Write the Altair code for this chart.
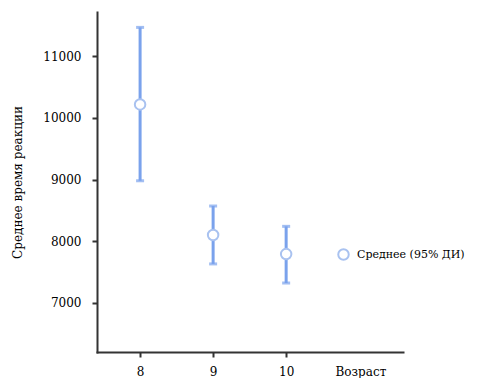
import altair as alt
import pandas as pd

ages = [8, 9, 10]
means = [10220, 8100, 7790]
lower = [8980, 7630, 7320]
upper = [11470, 8570, 8240]
series = ["Среднее (95% ДИ)"] * 3

df = pd.DataFrame({"age": ages, "mean": means, "lower": lower, "upper": upper, "series": series})
caps = pd.DataFrame({"age": ages + ages, "val": lower + upper})

FONT = "DejaVu Serif"
FS = 12
BAR = "#7aa2ec"
PT = "#a9c2f0"

xscale = alt.Scale(domain=[7.41, 11.6], nice=False, zero=False)
yscale = alt.Scale(domain=[6200, 11720], nice=False, zero=False)

xaxis = alt.Axis(values=ages, title="Возраст", grid=False, labelFont=FONT, labelFontSize=FS,
                 labelColor="black", titleFont=FONT, titleFontSize=FS, titleFontWeight="normal",
                 titleColor="black", titleAnchor="start", titleAlign="left", titleBaseline="alphabetic",
                 titleX=238, titleY=23,
                 domainColor="#333333", domainWidth=2, tickColor="#333333", tickWidth=2, tickSize=5,
                 labelPadding=9, format="d")
yaxis = alt.Axis(values=[7000, 8000, 9000, 10000, 11000], title="Среднее время реакции", grid=False,
                 labelFont=FONT, labelFontSize=FS, labelColor="black", titleFont=FONT, titleFontSize=FS,
                 titleFontWeight="normal", titleColor="black", domainColor="#333333", domainWidth=2,
                 tickColor="#333333", tickWidth=2, tickSize=5, labelPadding=11, titlePadding=18, format="d")

rules = alt.Chart(df).mark_rule(color=BAR, strokeWidth=3).encode(
    x=alt.X("age:Q", scale=xscale, axis=xaxis),
    y=alt.Y("lower:Q", scale=yscale, axis=yaxis),
    y2="upper:Q",
)
capl = alt.Chart(caps).mark_tick(color=BAR, orient="horizontal", size=8, thickness=3).encode(
    x=alt.X("age:Q", scale=xscale),
    y=alt.Y("val:Q", scale=yscale),
)
pts = alt.Chart(df).mark_point(shape="circle", fill="white", fillOpacity=1, strokeWidth=2, size=110, opacity=1).encode(
    x=alt.X("age:Q", scale=xscale),
    y=alt.Y("mean:Q", scale=yscale),
    stroke=alt.Stroke("series:N", scale=alt.Scale(range=[PT]),
                    legend=alt.Legend(title=None, orient="none", legendX=240, legendY=236,
                                      labelFont=FONT, labelFontSize=11, labelColor="black",
                                      symbolType="circle", symbolFillColor="white",
                                      symbolStrokeWidth=2, symbolSize=110,
                                      labelOffset=7, labelLimit=300)),
)

chart = alt.layer(rules, capl, pts).properties(
    width=306, height=340,
    autosize=alt.AutoSizeParams(type="none"),
    padding={"left": 89, "top": 4, "right": 68, "bottom": 26},
).configure_view(stroke=None).configure_axis(domainCap="square")

chart.save("out.html", embed_options={"renderer": "svg", "actions": False})
